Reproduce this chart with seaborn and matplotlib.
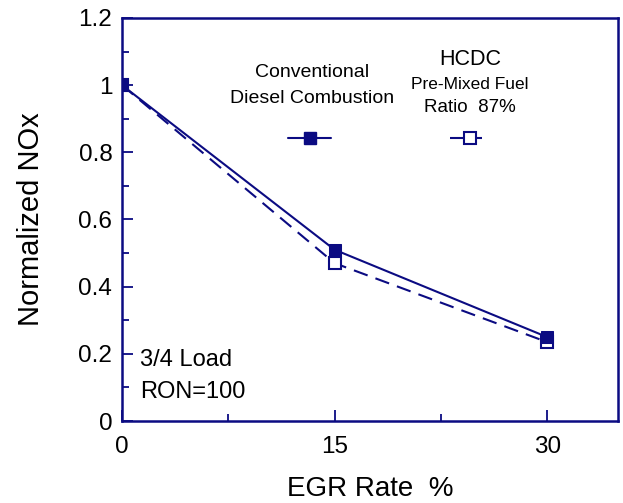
import matplotlib
matplotlib.use("Agg")
import matplotlib.pyplot as plt
from matplotlib.ticker import MultipleLocator, FixedLocator
import pandas as pd
import seaborn as sns

# EGR sweep at 3/4 load, RON=100
egr_rate = [0, 15, 30]
nox_conventional = [1.0, 0.51, 0.25]
nox_hcdc = [1.0, 0.47, 0.235]
x_ticks = [0, 15, 30]
y_ticks = [0, 0.2, 0.4, 0.6, 0.8, 1.0, 1.2]
y_tick_labels = ["0", "0.2", "0.4", "0.6", "0.8", "1", "1.2"]

NAVY = "#0b0b82"

sns.set_theme(style="white")
plt.rcParams["font.family"] = ["Liberation Sans", "DejaVu Sans"]

df_conv = pd.DataFrame({"egr": egr_rate, "nox": nox_conventional})
df_hcdc = pd.DataFrame({"egr": egr_rate, "nox": nox_hcdc})

fig = plt.figure(figsize=(6.23, 5.03), dpi=100)
ax = fig.add_axes([122 / 623, 1 - 421 / 503, 496 / 623, 403 / 503])

# HCDC: dashed line, open squares
sns.lineplot(data=df_hcdc, x="egr", y="nox", ax=ax, color=NAVY, lw=1.5,
             marker="s", markersize=9, markerfacecolor="white",
             markeredgecolor=NAVY, markeredgewidth=1.5, zorder=3)
ax.lines[-1].set_dashes([7, 4])
# Conventional diesel: solid line, filled squares
sns.lineplot(data=df_conv, x="egr", y="nox", ax=ax, color=NAVY, lw=1.5,
             marker="s", markersize=9, markerfacecolor=NAVY,
             markeredgecolor=NAVY, zorder=4)

ax.set_xlim(0, 35)
ax.set_ylim(0, 1.2)
ax.xaxis.set_major_locator(FixedLocator(x_ticks))
ax.xaxis.set_minor_locator(FixedLocator([7.5, 22.5]))
ax.yaxis.set_major_locator(FixedLocator(y_ticks))
ax.yaxis.set_minor_locator(MultipleLocator(0.1))
ax.set_yticklabels(y_tick_labels)
ax.set_xticklabels([str(v) for v in x_ticks])

for s in ax.spines.values():
    s.set_color(NAVY)
    s.set_linewidth(1.8)

ax.tick_params(which="both", direction="in", color=NAVY, width=1.3,
               top=False, right=False, bottom=True, left=True)
ax.tick_params(which="major", length=8, labelsize=17.5, labelcolor="black")
ax.tick_params(which="minor", length=5)
ax.tick_params(axis="y", which="major", pad=7)
ax.tick_params(axis="x", which="major", pad=11)

ax.set_xlabel("EGR Rate  %", fontsize=20, color="black", labelpad=13)
ax.set_ylabel("Normalized NOx", fontsize=21, color="black", labelpad=24)

# Legend block drawn inside the axes
tr = ax.transAxes
ax.text(0.383, 0.864, "Conventional", transform=tr, ha="center", va="center",
        fontsize=14, color="black")
ax.text(0.383, 0.800, "Diesel Combustion", transform=tr, ha="center",
        va="center", fontsize=14, color="black")
ax.plot([0.335, 0.421], [0.702, 0.702], transform=tr, color=NAVY, lw=1.5)
ax.plot([0.379], [0.702], transform=tr, marker="s", markersize=9,
        color=NAVY, lw=0)

ax.text(0.702, 0.896, "HCDC", transform=tr, ha="center", va="center",
        fontsize=15.5, color="black")
ax.text(0.702, 0.834, "Pre-Mixed Fuel", transform=tr, ha="center",
        va="center", fontsize=12.5, color="black")
ax.text(0.702, 0.777, "Ratio  87%", transform=tr, ha="center", va="center",
        fontsize=13.5, color="black")
hl, = ax.plot([0.661, 0.726], [0.702, 0.702], transform=tr, color=NAVY, lw=1.5)
hl.set_dashes([7, 4])
ax.plot([0.702], [0.702], transform=tr, marker="s", markersize=9, lw=0,
        markerfacecolor="white", markeredgecolor=NAVY, markeredgewidth=1.5)

ax.text(0.036, 0.151, "3/4 Load", transform=tr, ha="left", va="center",
        fontsize=17, color="black")
ax.text(0.036, 0.072, "RON=100", transform=tr, ha="left", va="center",
        fontsize=17, color="black")

fig.savefig("out.png", dpi=100)
